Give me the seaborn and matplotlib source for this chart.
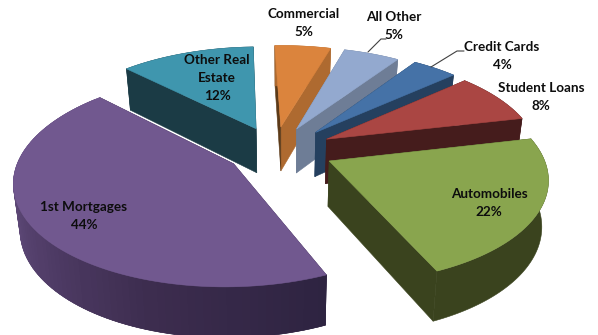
import numpy as np
import matplotlib
matplotlib.use("Agg")
import matplotlib.pyplot as plt
import seaborn as sns

# Loan portfolio shares, counter-clockwise from the front-right slice
categories = ["Automobiles", "Student Loans", "Credit Cards", "All Other",
              "Commercial", "Other Real Estate", "1st Mortgages"]
shares = [22, 8, 4, 5, 5, 12, 44]

top_colors = ["#89a54e", "#aa4643", "#4572a7", "#93a9cf", "#db843d", "#3f96ae", "#71588f"]
wall_colors = ["#3a431e", "#451c1c", "#25405f", "#6e7d96", "#ae6a30", "#1b3b45", "#3c2c4e"]
inner_colors = ["#3a431e", "#451c1c", "#25405f", "#6e7d96", "#5c3a18", "#1b3b45", "#3c2c4e"]
# Sideways nudge of each slice on the pie plane
slice_shift = [0.0, -0.005, 0.0, -0.035, -0.04, -0.035, -0.03]

# Camera model for the tilted, exploded pie
CX, CY = 283.0, 150.0
RX, RY = 212.0, 100.0
PERSP = 0.15
EXPLODE = 0.24
DEPTH = 45.0
SHRINK = 0.975
START = -66.4


def project(x, y, lower=False):
    w = 1 + PERSP * y
    sx = RX * x / w
    sy = -RY * y / w
    if lower:
        return CX + sx * SHRINK, CY + sy + DEPTH / w ** 0.65
    return CX + sx, CY + sy


def fill_poly(ax, xs, ys, color, z):
    ax.fill(xs, ys, facecolor=color, edgecolor=color, linewidth=0.4, zorder=z)


sns.set_theme(style="white")
plt.rcParams["font.family"] = ["Lato", "DejaVu Sans"]

fig, ax = plt.subplots(figsize=(5.98, 3.35), dpi=100)
fig.subplots_adjust(0, 0, 1, 1)
ax.set_xlim(0, 598)
ax.set_ylim(335, 0)
ax.axis("off")

spans = np.array(shares) / sum(shares) * 360
starts = START + np.concatenate([[0], np.cumsum(spans)[:-1]])
mids = starts + spans / 2
rim_ramp = sns.blend_palette(["#6b5486", "#54406c", "#3c2c4e", "#2d2340"], 64)

# Slices are painted from the back of the pie towards the viewer
order = np.argsort(-np.sin(np.radians(mids)))
z = 1
for i in order:
    ox = EXPLODE * np.cos(np.radians(mids[i])) + slice_shift[i]
    oy = EXPLODE * np.sin(np.radians(mids[i]))
    th = np.radians(np.linspace(starts[i], starts[i] + spans[i], 90))
    rx = ox + np.cos(th)
    ry = oy + np.sin(th)

    # radial wall on the starting edge, then the one on the finishing edge
    for k, col in ((0, wall_colors[i]), (-1, inner_colors[i])):
        a = project(ox, oy)
        b = project(rx[k], ry[k])
        c = project(rx[k], ry[k], lower=True)
        d = project(ox, oy, lower=True)
        fill_poly(ax, [a[0], b[0], c[0], d[0]], [a[1], b[1], c[1], d[1]], col, z)
        z += 1

    # outer rim; the largest slice gets a running shade, each band overlapping the next
    tx, ty = project(rx, ry)
    bx, by = project(rx, ry, lower=True)
    if categories[i] == "1st Mortgages":
        for s in range(len(th) - 1):
            t = np.clip((np.degrees(th[s]) - 170) / 124, 0, 1)
            e = min(s + 3, len(th))
            fill_poly(ax, np.r_[tx[s:e], bx[s:e][::-1]], np.r_[ty[s:e], by[s:e][::-1]],
                      rim_ramp[int(t * 63)], z)
            z += 1
    else:
        fill_poly(ax, np.r_[tx, bx[::-1]], np.r_[ty, by[::-1]], wall_colors[i], z)
        z += 1

    # top face
    ax0, ay0 = project(ox, oy)
    fill_poly(ax, np.r_[ax0, tx], np.r_[ay0, ty], top_colors[i], z)
    z += 1

label_text = {
    "Automobiles": ("Automobiles\n22%", 489, 203),
    "Student Loans": ("Student Loans\n8%", 541, 97),
    "Credit Cards": ("Credit Cards\n4%", 502, 56),
    "All Other": ("All Other\n5%", 394, 26),
    "Commercial": ("Commercial\n5%", 304, 23),
    "Other Real Estate": ("Other Real\nEstate\n12%", 217, 78),
    "1st Mortgages": ("1st Mortgages\n44%", 84, 216),
}
for name, (text, x, y) in label_text.items():
    ax.text(x, y, text, ha="center", va="center", fontsize=9.7, fontweight="bold",
            color="#0d0d0d", linespacing=1.6, zorder=1000)

# Leader lines for the two small slices
ax.plot([368, 381, 386], [52, 39, 39], color="#404040", lw=0.8, zorder=900)
ax.plot([431, 457, 464], [67, 51, 51], color="#404040", lw=0.8, zorder=900)

fig.savefig("out.png", dpi=100)
